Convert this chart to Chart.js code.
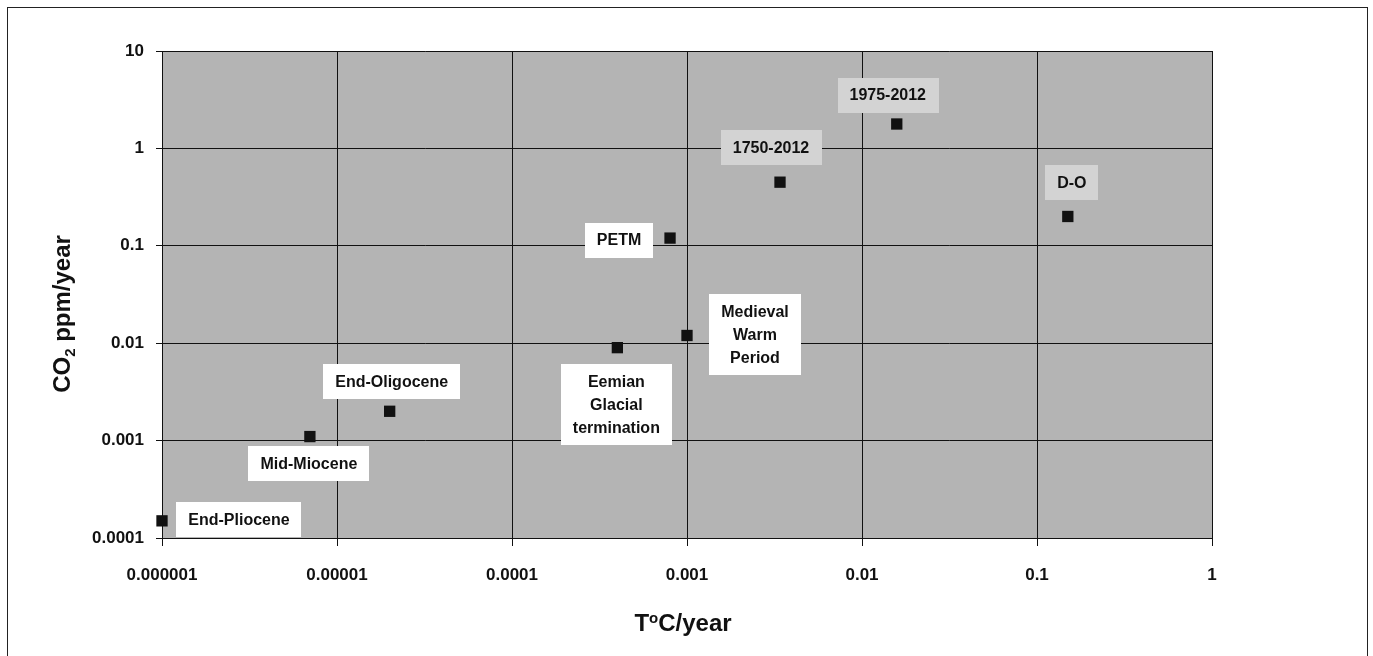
<!DOCTYPE html>
<html>
<head>
<meta charset="utf-8">
<script src="https://cdn.jsdelivr.net/npm/chart.js@4.4.1/dist/chart.umd.min.js"></script>
<style>
  body { margin: 0; background: #fff; }
  #wrap { width: 1373px; height: 656px; position: relative; }
</style>
</head>
<body>
<div id="wrap"><canvas id="rates"></canvas></div>
<script>
// rate of temperature change vs rate of CO2 change, log-log
const eventNames = ["End-Pliocene", "Mid-Miocene", "End-Oligocene", "Eemian\nGlacial\ntermination",
  "Medieval\nWarm\nPeriod", "PETM", "1750-2012", "1975-2012", "D-O"];
const tempRates = [0.000001, 0.000007, 0.00002, 0.0004, 0.001, 0.0008, 0.0034, 0.0158, 0.15];
const co2Rates = [0.00015, 0.0011, 0.002, 0.009, 0.012, 0.12, 0.45, 1.78, 0.2];

const xTicks = [0.000001, 0.00001, 0.0001, 0.001, 0.01, 0.1, 1];
const xTickLabels = ["0.000001", "0.00001", "0.0001", "0.001", "0.01", "0.1", "1"];
const yTicks = [0.0001, 0.001, 0.01, 0.1, 1, 10];
const yTickLabels = ["0.0001", "0.001", "0.01", "0.1", "1", "10"];

// where each label box sits relative to its point (px), and its fill
const labelShift = [[77, -1], [-1, 27], [2, -30], [-1, 57], [68, -1], [-51, 2], [-9, -35], [-9, -29], [4, -34]];
const labelFill = ["#fff", "#fff", "#fff", "#fff", "#fff", "#fff", "#d3d3d3", "#d3d3d3", "#d3d3d3"];

const ink = "#111";
const FONT = "'Liberation Sans', Arial, sans-serif";

const framePlugin = {
  id: "frame",
  beforeDraw(chart) {
    const ctx = chart.ctx, a = chart.chartArea;
    ctx.save();
    ctx.fillStyle = "#fff";
    ctx.fillRect(0, 0, chart.width, chart.height);
    ctx.fillStyle = "#b4b4b4";
    ctx.fillRect(a.left, a.top, a.right - a.left, a.bottom - a.top);
    ctx.strokeStyle = "#222";
    ctx.lineWidth = 1;
    ctx.strokeRect(7.5, 7.5, 1360, 700);
    ctx.restore();
  },
  afterDraw(chart) {
    // axis titles with sub/superscripts
    const ctx = chart.ctx;
    ctx.save();
    ctx.fillStyle = ink;
    ctx.textBaseline = "alphabetic";
    ctx.textAlign = "left";
    const big = "bold 24px " + FONT, small = "bold 15px " + FONT;

    // x title: T°C/year
    ctx.font = big;
    const wT = ctx.measureText("T").width;
    const wRest = ctx.measureText("C/year").width;
    ctx.font = small;
    const wo = ctx.measureText("o").width;
    let x = 683 - (wT + wo + wRest) / 2;
    const base = 631;
    ctx.font = big;
    ctx.fillText("T", x, base);
    ctx.font = small;
    ctx.fillText("o", x + wT, base - 8);
    ctx.font = big;
    ctx.fillText("C/year", x + wT + wo, base);

    // y title: CO2 ppm/year
    ctx.translate(70, 314);
    ctx.rotate(-Math.PI / 2);
    ctx.font = big;
    const wCO = ctx.measureText("CO").width;
    const wTail = ctx.measureText(" ppm/year").width;
    ctx.font = small;
    const w2 = ctx.measureText("2").width;
    x = -(wCO + w2 + wTail) / 2;
    ctx.font = big;
    ctx.fillText("CO", x, 0);
    ctx.font = small;
    ctx.fillText("2", x + wCO, 5);
    ctx.font = big;
    ctx.fillText(" ppm/year", x + wCO + w2, 0);
    ctx.restore();
  }
};

const labelPlugin = {
  id: "eventLabels",
  afterDatasetsDraw(chart) {
    const ctx = chart.ctx;
    const pts = chart.getDatasetMeta(0).data;
    ctx.save();
    ctx.font = "bold 16px " + FONT;
    ctx.textAlign = "center";
    ctx.textBaseline = "middle";
    pts.forEach(function(p, i) {
      const lines = eventNames[i].split("\n");
      const w = Math.max(...lines.map(l => ctx.measureText(l).width)) + 24;
      const lh = 23;
      const h = lines.length * lh + 12;
      const cx = p.x + labelShift[i][0], cy = p.y + labelShift[i][1];
      ctx.fillStyle = labelFill[i];
      ctx.fillRect(Math.round(cx - w / 2), Math.round(cy - h / 2), Math.round(w), h);
      ctx.fillStyle = ink;
      lines.forEach(function(l, j) {
        ctx.fillText(l, cx, cy - (lines.length - 1) * lh / 2 + j * lh + 1);
      });
    });
    ctx.restore();
  }
};

const points = tempRates.map((t, i) => ({ x: t, y: co2Rates[i] }));

new Chart(document.getElementById("rates"), {
  type: "scatter",
  data: {
    datasets: [{
      label: "events",
      data: points,
      pointStyle: "rect",
      pointRadius: 8,
      pointHoverRadius: 8,
      backgroundColor: ink,
      borderWidth: 0,
      clip: false
    }]
  },
  options: {
    responsive: true,
    maintainAspectRatio: false,
    animation: false,
    events: [],
    layout: { padding: { left: 0, top: 51, right: 161, bottom: 0 } },
    plugins: { legend: { display: false }, tooltip: { enabled: false } },
    scales: {
      x: {
        type: "logarithmic",
        min: 0.000001,
        max: 1,
        afterBuildTicks: s => { s.ticks = xTicks.map(v => ({ value: v })); },
        afterFit: s => { s.height = 118; },
        ticks: {
          callback: (v, i) => xTickLabels[i],
          font: { family: FONT, size: 17, weight: "bold" },
          color: ink,
          padding: 19,
          maxRotation: 0,
          autoSkip: false
        },
        grid: { color: ink, lineWidth: 1, tickLength: 8 },
        border: { color: ink, width: 1 }
      },
      y: {
        type: "logarithmic",
        min: 0.0001,
        max: 10,
        afterBuildTicks: s => { s.ticks = yTicks.map(v => ({ value: v })); },
        afterFit: s => { s.width = 162; },
        ticks: {
          callback: (v, i) => yTickLabels[i],
          font: { family: FONT, size: 17, weight: "bold" },
          color: ink,
          padding: 12,
          autoSkip: false
        },
        grid: { color: ink, lineWidth: 1, tickLength: 6 },
        border: { color: ink, width: 1 }
      }
    }
  },
  plugins: [framePlugin, labelPlugin]
});
</script>
</body>
</html>
